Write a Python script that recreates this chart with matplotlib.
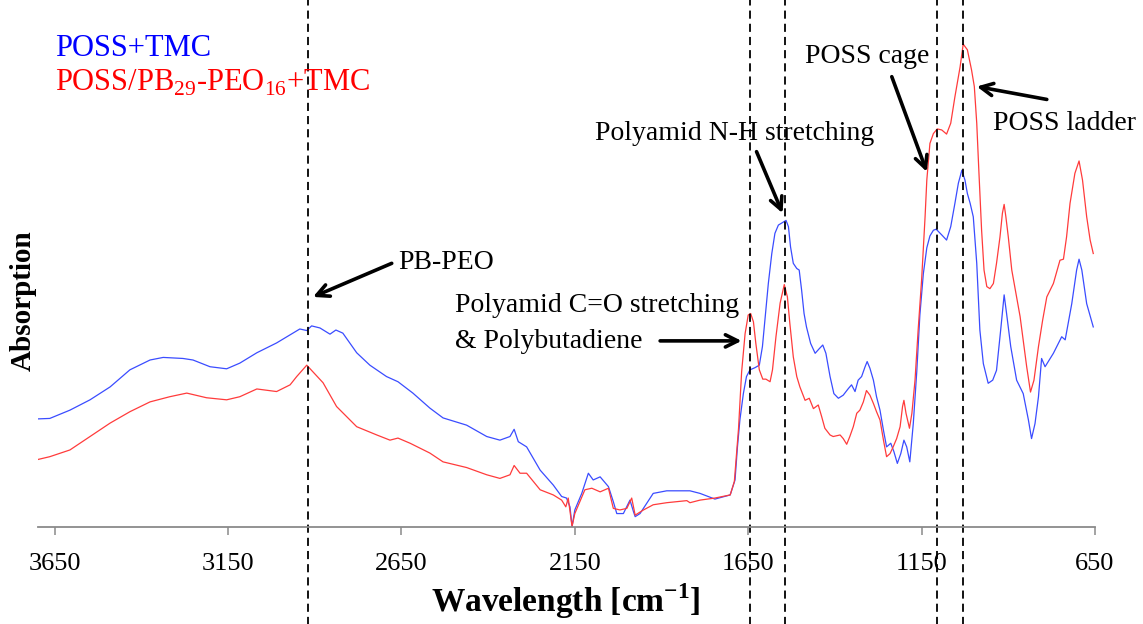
import numpy as np
import matplotlib
matplotlib.use("Agg")
import matplotlib.pyplot as plt

plt.rcParams['font.family'] = ['Liberation Serif', 'DejaVu Serif']
plt.rcParams['mathtext.fontset'] = 'custom'
plt.rcParams['mathtext.rm'] = 'Liberation Serif'
plt.rcParams['mathtext.bf'] = 'Liberation Serif:bold'

# FTIR spectra (wavenumber in cm-1, absorption in arbitrary units)
wn_poss = [3702, 3664, 3606, 3548, 3490, 3433, 3375, 3337, 3280, 3251, 3202, 3154,
           3116, 3067, 3010, 2963, 2943, 2923, 2909, 2885, 2856, 2839, 2819, 2779,
           2741, 2693, 2660, 2617, 2568, 2530, 2462, 2404, 2366, 2337, 2325, 2313,
           2289, 2250, 2212, 2188, 2174, 2164, 2158, 2150, 2130, 2111, 2097, 2077,
           2053, 2039, 2029, 2010, 1991, 1981, 1976, 1962, 1924, 1885, 1818, 1789,
           1746, 1702, 1688, 1681, 1674, 1664, 1655, 1645, 1631, 1618, 1609, 1602,
           1592, 1582, 1573, 1563, 1551, 1541, 1534, 1528, 1520, 1510, 1503, 1496,
           1489, 1482, 1470, 1457, 1445, 1435, 1426, 1414, 1403, 1390, 1376, 1361,
           1352, 1342, 1333, 1323, 1313, 1307, 1299, 1289, 1280, 1270, 1260, 1251,
           1239, 1230, 1220, 1210, 1201, 1193, 1184, 1174, 1164, 1155, 1145, 1135,
           1126, 1116, 1108, 1092, 1078, 1066, 1054, 1044, 1034, 1025, 1018, 1010,
           1001, 991, 982, 972, 958, 945, 934, 922, 912, 905, 893, 876, 857, 842,
           833, 823, 813, 804, 794, 770, 746, 736, 717, 703, 696, 688, 674, 655]
ab_poss = [0.209, 0.210, 0.226, 0.246, 0.271, 0.304, 0.323, 0.328, 0.326, 0.323, 0.310, 0.306,
           0.317, 0.337, 0.356, 0.375, 0.383, 0.380, 0.389, 0.385, 0.373, 0.381, 0.375, 0.337,
           0.313, 0.291, 0.281, 0.259, 0.230, 0.211, 0.197, 0.175, 0.168, 0.175, 0.189, 0.165,
           0.155, 0.110, 0.081, 0.059, 0.056, 0.039, 0.001, 0.033, 0.065, 0.104, 0.091, 0.097,
           0.078, 0.049, 0.026, 0.026, 0.052, 0.030, 0.020, 0.026, 0.065, 0.070, 0.070, 0.065,
           0.054, 0.062, 0.091, 0.155, 0.207, 0.258, 0.291, 0.304, 0.308, 0.313, 0.349, 0.400,
           0.471, 0.529, 0.568, 0.584, 0.589, 0.593, 0.581, 0.542, 0.510, 0.500, 0.497, 0.458,
           0.413, 0.387, 0.355, 0.336, 0.345, 0.352, 0.336, 0.291, 0.258, 0.249, 0.255, 0.268,
           0.275, 0.262, 0.284, 0.291, 0.310, 0.320, 0.307, 0.284, 0.252, 0.226, 0.187, 0.155,
           0.162, 0.146, 0.123, 0.142, 0.168, 0.155, 0.126, 0.200, 0.300, 0.410, 0.490, 0.540,
           0.563, 0.574, 0.576, 0.565, 0.555, 0.581, 0.626, 0.665, 0.690, 0.671, 0.645, 0.626,
           0.600, 0.510, 0.381, 0.316, 0.278, 0.284, 0.303, 0.381, 0.449, 0.413, 0.349, 0.284,
           0.258, 0.207, 0.171, 0.200, 0.252, 0.326, 0.310, 0.336, 0.368, 0.362, 0.432, 0.497,
           0.518, 0.497, 0.432, 0.387]

wn_block = [3702, 3664, 3606, 3548, 3490, 3433, 3375, 3318, 3269, 3212, 3154, 3116,
            3067, 3010, 2971, 2952, 2923, 2905, 2876, 2837, 2779, 2721, 2683, 2660,
            2625, 2568, 2530, 2462, 2404, 2366, 2337, 2325, 2308, 2289, 2250, 2212,
            2188, 2176, 2169, 2158, 2150, 2121, 2101, 2077, 2053, 2039, 2020, 2000,
            1986, 1976, 1952, 1924, 1885, 1827, 1818, 1789, 1746, 1702, 1690, 1678,
            1669, 1659, 1650, 1643, 1635, 1628, 1618, 1608, 1599, 1587, 1580, 1570,
            1558, 1546, 1537, 1530, 1520, 1510, 1501, 1486, 1474, 1462, 1448, 1438,
            1429, 1414, 1405, 1385, 1376, 1366, 1357, 1347, 1337, 1328, 1318, 1309,
            1299, 1289, 1280, 1270, 1260, 1251, 1241, 1232, 1222, 1212, 1205, 1201,
            1195, 1185, 1178, 1169, 1160, 1150, 1140, 1135, 1126, 1116, 1105, 1092,
            1078, 1066, 1054, 1039, 1030, 1018, 1006, 998, 991, 985, 977, 970, 962,
            953, 943, 934, 924, 917, 912, 907, 900, 890, 876, 866, 857, 847, 836,
            826, 813, 801, 789, 770, 751, 741, 732, 722, 708, 696, 686, 674, 664, 655]
ab_block = [0.130, 0.136, 0.149, 0.175, 0.201, 0.223, 0.242, 0.252, 0.259, 0.250, 0.246, 0.252,
            0.267, 0.262, 0.275, 0.291, 0.313, 0.300, 0.279, 0.233, 0.194, 0.178, 0.168, 0.172,
            0.162, 0.143, 0.126, 0.115, 0.101, 0.094, 0.101, 0.119, 0.104, 0.104, 0.072, 0.062,
            0.052, 0.039, 0.056, 0.001, 0.026, 0.072, 0.075, 0.068, 0.075, 0.036, 0.033, 0.036,
            0.056, 0.023, 0.033, 0.043, 0.047, 0.051, 0.047, 0.052, 0.056, 0.062, 0.088, 0.190,
            0.300, 0.374, 0.410, 0.413, 0.397, 0.355, 0.304, 0.286, 0.286, 0.281, 0.304, 0.368,
            0.433, 0.469, 0.445, 0.394, 0.329, 0.291, 0.271, 0.245, 0.249, 0.229, 0.236, 0.213,
            0.191, 0.178, 0.175, 0.178, 0.171, 0.160, 0.175, 0.194, 0.220, 0.226, 0.242, 0.264,
            0.255, 0.239, 0.223, 0.207, 0.168, 0.136, 0.142, 0.155, 0.171, 0.194, 0.233, 0.245,
            0.220, 0.191, 0.220, 0.284, 0.381, 0.478, 0.600, 0.671, 0.742, 0.761, 0.770, 0.768,
            0.760, 0.781, 0.832, 0.890, 0.934, 0.923, 0.884, 0.852, 0.781, 0.690, 0.574, 0.497, 0.465,
            0.461, 0.471, 0.510, 0.561, 0.607, 0.624, 0.600, 0.561, 0.497, 0.445, 0.407, 0.361, 0.310, 0.261,
            0.284, 0.349, 0.400, 0.445, 0.471, 0.516, 0.518, 0.561, 0.626, 0.684, 0.708, 0.671, 0.600, 0.555, 0.529]

# band positions marked with dashed lines
band_lines = [2920, 1644, 1544, 1106, 1032]
x_ticks = [3650, 3150, 2650, 2150, 1650, 1150, 650]

fig = plt.figure(figsize=(11.43, 6.24), dpi=100)
ax = fig.add_axes([38 / 1143, 97 / 624, 1057 / 1143, 517 / 624])

ax.plot(wn_poss, ab_poss, color='#3a4cff', lw=0.9, solid_joinstyle='round')
ax.plot(wn_block, ab_block, color='#ff3b3b', lw=0.9, solid_joinstyle='round')

for b in band_lines:
    ax.axvline(b, ymin=-0.19, ymax=1.02, clip_on=False, color='black',
               lw=1.3, dashes=(4.5, 2.8))

ax.set_xlim(3698, 650)
ax.set_ylim(0, 1)
ax.set_xticks(x_ticks)
ax.set_yticks([])
for s in ['top', 'right', 'left']:
    ax.spines[s].set_visible(False)
ax.spines['bottom'].set_color('#8a8a8a')
ax.spines['bottom'].set_linewidth(1.3)
ax.tick_params(axis='x', direction='out', length=6, width=1.1, color='#8a8a8a',
               labelsize=19, pad=13)

fig.text(566 / 1143, 1 - 601 / 624, r'Wavelength [cm$^{\mathbf{-1}}$]',
         fontsize=24, fontweight='bold', ha='center', va='center')
fig.text(23 / 1143, 1 - 301 / 624, 'Absorption', rotation=90,
         fontsize=21, fontweight='bold', ha='center', va='center')

# series labels
ax.text(3650, 0.926, 'POSS+TMC', color='#0000ff', fontsize=22, va='center')
ax.text(3650, 0.858, r'POSS/PB$_{29}$-PEO$_{16}$+TMC', color='#ff0000',
        fontsize=22, va='center')

# band annotations
arrow = dict(arrowstyle='->', color='black', lw=2.6,
             mutation_scale=22, shrinkA=0, shrinkB=0)
ax.text(2660, 0.511, 'PB-PEO', fontsize=20, va='center')
ax.annotate('', xy=(2905, 0.445), xytext=(2678, 0.510), arrowprops=arrow)

ax.text(2496, 0.429, 'Polyamid C=O stretching', fontsize=20, va='center')
ax.text(2496, 0.358, '& Polybutadiene', fontsize=20, va='center')
ax.annotate('', xy=(1669, 0.360), xytext=(1904, 0.360), arrowprops=arrow)

ax.text(2092, 0.762, 'Polyamid N-H stretching', fontsize=20, va='center')
ax.annotate('', xy=(1551, 0.607), xytext=(1626, 0.726), arrowprops=arrow)

ax.text(1486, 0.910, 'POSS cage', fontsize=20, va='center')
ax.annotate('', xy=(1135, 0.687), xytext=(1236, 0.871), arrowprops=arrow)

ax.text(944, 0.781, 'POSS ladder', fontsize=20, va='center')
ax.annotate('', xy=(991, 0.852), xytext=(789, 0.827), arrowprops=arrow)

fig.savefig('out.png', dpi=100)
